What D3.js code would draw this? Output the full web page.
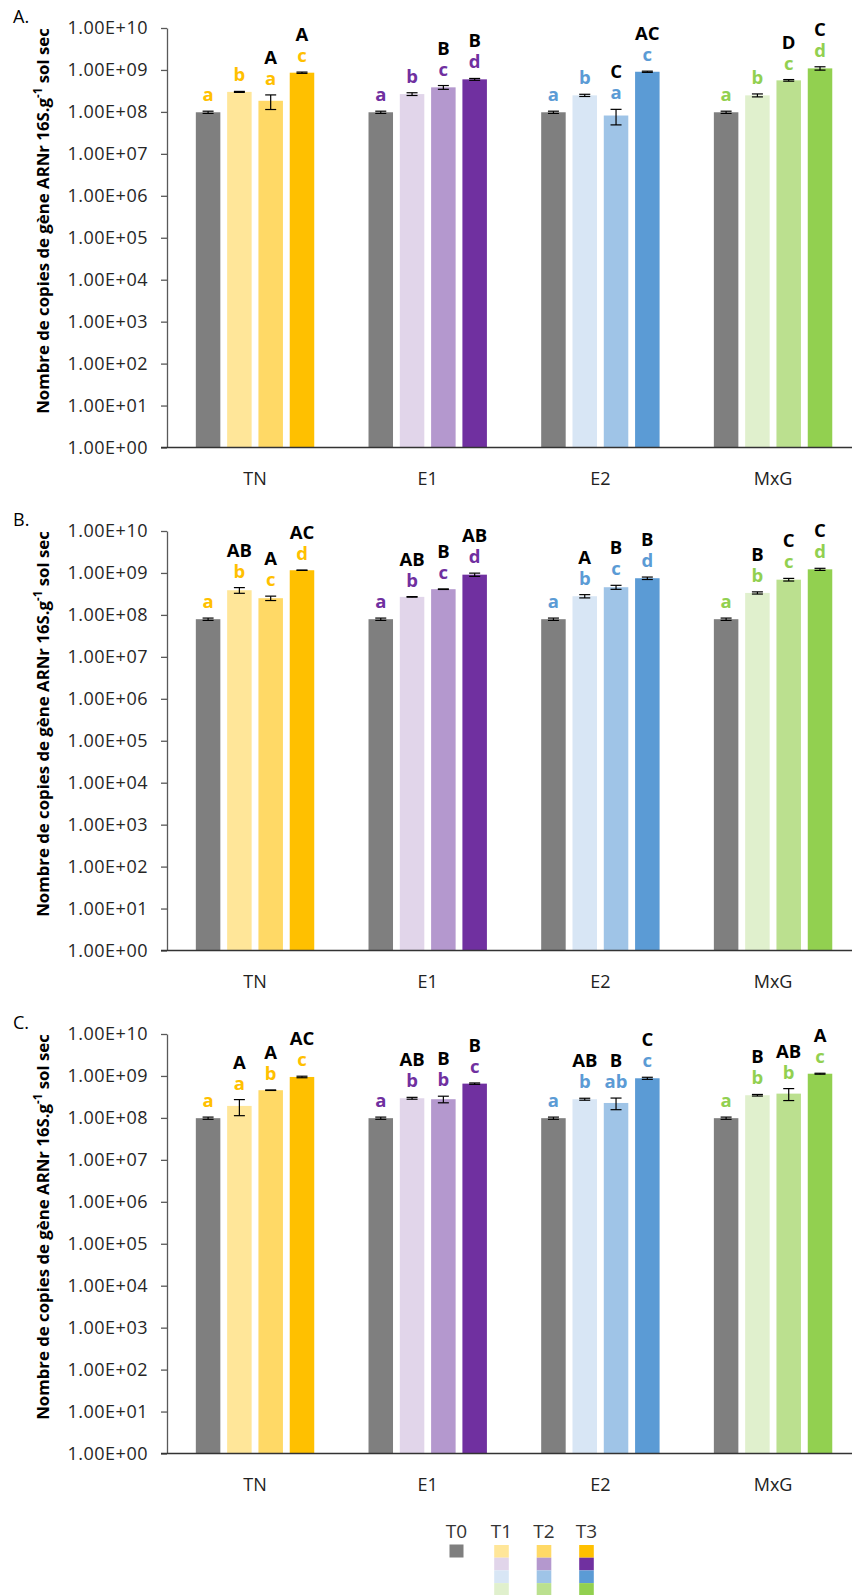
<!DOCTYPE html>
<html>
<head>
<meta charset="utf-8">
<script src="https://cdn.jsdelivr.net/npm/d3@7"></script>
<style>
  html, body { margin: 0; padding: 0; background: #fff; }
  svg { display: block; font-family: "Open Sans", "Noto Sans", sans-serif; }
</style>
</head>
<body>
<svg id="chart" width="852" height="1595"></svg>
<script>
// ---------- data ----------
const categories = ["TN", "E1", "E2", "MxG"];
const times = ["T0", "T1", "T2", "T3"];
const tickValues = [1, 1e1, 1e2, 1e3, 1e4, 1e5, 1e6, 1e7, 1e8, 1e9, 1e10];
const tickLabels = ["1.00E+00", "1.00E+01", "1.00E+02", "1.00E+03", "1.00E+04", "1.00E+05",
                    "1.00E+06", "1.00E+07", "1.00E+08", "1.00E+09", "1.00E+10"];
const panelNames = ["A.", "B.", "C."];

// means per category (rows) and time (columns)
const meansA = [[9.8e7, 3.0e8, 1.84e8, 8.6e8],
                [9.8e7, 2.66e8, 3.85e8, 5.97e8],
                [9.8e7, 2.48e8, 8.2e7, 9.06e8],
                [9.8e7, 2.48e8, 5.65e8, 1.09e9]];
const errA   = [[6e6, 8e6, 7e7, 3e7],
                [6e6, 2e7, 4e7, 3e7],
                [6e6, 1.5e7, 3.3e7, 3e7],
                [6e6, 2e7, 2.5e7, 1e8]];
const meansB = [[7.9e7, 3.87e8, 2.5e8, 1.16e9],
                [7.9e7, 2.69e8, 4.1e8, 9.1e8],
                [7.9e7, 2.79e8, 4.57e8, 7.48e8],
                [7.9e7, 3.34e8, 6.92e8, 1.22e9]];
const errB   = [[5e6, 6e7, 3e7, 1e7],
                [5e6, 4e6, 6e6, 8e7],
                [5e6, 2.5e7, 5e7, 5e7],
                [5e6, 2e7, 5e7, 7e7]];
const meansC = [[9.85e7, 1.93e8, 4.57e8, 9.46e8],
                [9.85e7, 2.94e8, 2.79e8, 6.56e8],
                [9.85e7, 2.79e8, 2.27e8, 8.8e8],
                [9.85e7, 3.47e8, 3.79e8, 1.13e9]];
const errC   = [[6e6, 8e7, 6e6, 4e7],
                [6e6, 1.5e7, 5e7, 2.5e7],
                [6e6, 1.5e7, 7e7, 5e7],
                [6e6, 1.5e7, 1.2e8, 3e7]];

const lowerA = [["a","b","a","c"], ["a","b","c","d"], ["a","b","a","c"], ["a","b","c","d"]];
const upperA = [["","","A","A"], ["","","B","B"], ["","","C","AC"], ["","","D","C"]];
const lowerB = [["a","b","c","d"], ["a","b","c","d"], ["a","b","c","d"], ["a","b","c","d"]];
const upperB = [["","AB","A","AC"], ["","AB","B","AB"], ["","A","B","B"], ["","B","C","C"]];
const lowerC = [["a","a","b","c"], ["a","b","b","c"], ["a","b","ab","c"], ["a","b","b","c"]];
const upperC = [["","A","A","AC"], ["","AB","B","B"], ["","AB","B","C"], ["","B","AB","A"]];

// colours: T0 grey, then T1..T3 per category
const greyT0 = "#7f7f7f";
const catColors = [["#7f7f7f", "#ffe699", "#ffd966", "#ffc000"],
                   ["#7f7f7f", "#e1d5ea", "#b498ce", "#7030a0"],
                   ["#7f7f7f", "#d8e6f5", "#9fc4e7", "#5b9bd5"],
                   ["#7f7f7f", "#e0f0cd", "#bbe08f", "#92d050"]];
const letterColors = ["#ffc000", "#7030a0", "#5b9bd5", "#92d050"];

const panels = [
  {name: panelNames[0], means: meansA, err: errA, lower: lowerA, upper: upperA, top: 28},
  {name: panelNames[1], means: meansB, err: errB, lower: lowerB, upper: upperB, top: 531},
  {name: panelNames[2], means: meansC, err: errC, lower: lowerC, upper: upperC, top: 1034}
];

// ---------- drawing ----------
const svg = d3.select("#chart");
const plotH = 419.5;
const axisX = 167;

const x0 = d3.scaleBand().domain(categories).range([168.7, 859.4]);
const x1 = d3.scaleBand().domain(times).range([-62.6, 62.6]).paddingInner(0.217).paddingOuter(0.1085);

panels.forEach(p => {
  const g = svg.append("g");
  const y = d3.scaleLog().domain([1, 1e10]).range([p.top + plotH, p.top]);

  // panel label
  g.append("text").attr("x", 13).attr("y", p.top - 5)
    .attr("font-size", 18).attr("fill", "#000").text(p.name);

  // y axis
  const yAxis = d3.axisLeft(y).tickValues(tickValues)
    .tickFormat((d, i) => tickLabels[i]).tickSizeOuter(0).tickSizeInner(6).tickPadding(13);
  const ya = g.append("g").attr("transform", `translate(${axisX},0)`).call(yAxis);
  ya.select(".domain").attr("stroke", "#595959").attr("stroke-width", 1.3);
  ya.selectAll(".tick line").attr("stroke", "#595959").attr("stroke-width", 1.3);
  ya.selectAll(".tick text").attr("font-size", 18).attr("fill", "#262626")
    .attr("letter-spacing", 0.5)
    .attr("font-family", "'Open Sans', sans-serif");

  // y title
  const cy = p.top + 193;
  const t = g.append("text")
    .attr("transform", `translate(49,${cy}) rotate(-90)`)
    .attr("text-anchor", "middle").attr("font-size", 16.8).attr("font-weight", "bold")
    .attr("fill", "#000");
  t.append("tspan").text("Nombre de copies de gène ARNr 16S.g");
  t.append("tspan").attr("font-size", 11.5).attr("dy", -7).text("-1");
  t.append("tspan").attr("dy", 7).text(" sol sec");

  // bars
  categories.forEach((c, ci) => {
    const cx = x0(c) + x0.bandwidth() / 2;
    times.forEach((tm, ti) => {
      const v = p.means[ci][ti];
      const e = p.err[ci][ti];
      const bx = cx + x1(tm);
      const bw = x1.bandwidth();
      g.append("rect").attr("x", bx).attr("y", y(v))
        .attr("width", bw).attr("height", y(1) - y(v))
        .attr("fill", catColors[ci][ti]);
      // error bar
      const mx = bx + bw / 2;
      const yt = y(v + e), yb = y(Math.max(v - e, 1));
      const cap = 5.5;
      g.append("line").attr("x1", mx).attr("x2", mx).attr("y1", yt).attr("y2", yb)
        .attr("stroke", "#000").attr("stroke-width", 1.2);
      [yt, yb].forEach(yy => g.append("line").attr("x1", mx - cap).attr("x2", mx + cap)
        .attr("y1", yy).attr("y2", yy).attr("stroke", "#000").attr("stroke-width", 1.2));
      // significance letters: one text block, upper (black) over lower (coloured)
      const lowY = yt - 10;
      const lt = g.append("text").attr("text-anchor", "middle")
        .attr("font-size", 18.5).attr("font-weight", "bold");
      if (p.upper[ci][ti]) {
        lt.append("tspan").attr("x", mx).attr("y", lowY - 21).attr("fill", "#000")
          .text(p.upper[ci][ti]);
      }
      lt.append("tspan").attr("x", mx).attr("y", lowY).attr("fill", letterColors[ci])
        .text(p.lower[ci][ti]);
    });
    // category label
    g.append("text").attr("x", cx).attr("y", p.top + plotH + 37).attr("text-anchor", "middle")
      .attr("font-size", 18).attr("fill", "#222").text(c);
  });

  // x axis line
  g.append("line").attr("x1", axisX - 6).attr("x2", 852)
    .attr("y1", y(1)).attr("y2", y(1)).attr("stroke", "#333").attr("stroke-width", 1.5);
});

// ---------- legend ----------
const legCenters = {T0: 456.5, T1: 501.5, T2: 544, T3: 586.5};
const lg = svg.append("g");
times.forEach((tm, ti) => {
  const cx = legCenters[tm];
  lg.append("text").attr("x", cx).attr("y", 1538).attr("text-anchor", "middle")
    .attr("font-size", 19).attr("fill", "#333").text(tm);
  if (ti === 0) {
    lg.append("rect").attr("x", cx - 7).attr("y", 1544.5).attr("width", 14).attr("height", 13)
      .attr("fill", greyT0);
  } else {
    categories.forEach((c, ci) => {
      lg.append("rect").attr("x", cx - 7.3).attr("y", 1545 + ci * 12.7)
        .attr("width", 14.6).attr("height", 12.7).attr("fill", catColors[ci][ti]);
    });
  }
});
</script>
</body>
</html>
